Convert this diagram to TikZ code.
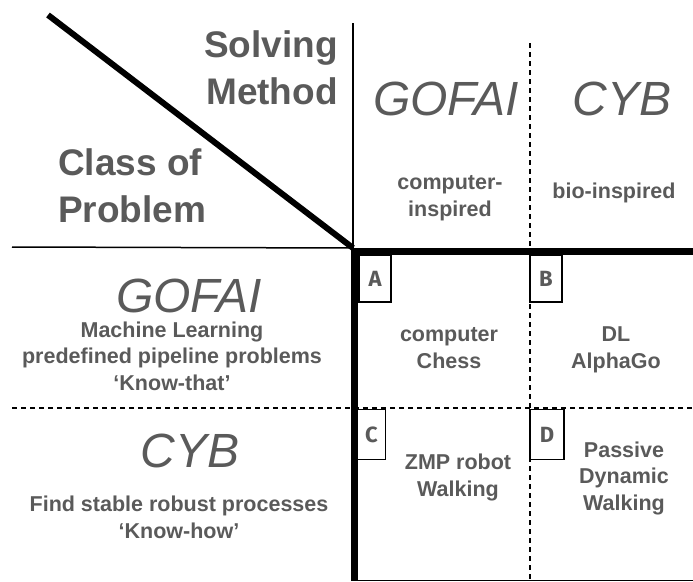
\documentclass[tikz,border=0pt]{standalone}
\usepackage{fontspec}
\setmainfont{Liberation Sans}
\newfontfamily\handfont{Fira Sans}
\usetikzlibrary{positioning}
\definecolor{labelgray}{HTML}{5A5A5A}
\tikzset {
	header/.style={font=\fontsize{37}{47}\selectfont\bfseries, text=labelgray, inner sep=0pt},
	tribe/.style={font=\fontsize{48}{50}\selectfont\itshape, text=labelgray, inner sep=0pt},
	caption/.style={font=\fontsize{21.5}{26.5}\selectfont\bfseries, text=labelgray, align=center, inner sep=0pt},
	letterbox/.style={rectangle, draw, fill=white, line width=1.8pt, inner sep=0pt,
					font=\fontsize{22}{22}\selectfont\handfont\bfseries, text=labelgray},
	thinrule/.style={line width=1.5pt},
	thickrule/.style={line width=7pt},
	dotrule/.style={line width=2.2pt, dash pattern=on 5pt off 4pt}
}

\begin{document}
\begin{tikzpicture}[x=1pt, y=-1pt]
					\useasboundingbox (0,0) rectangle (693,581);
					\coordinate (diagTop) at (48,15);
					\coordinate (corner) at (353,248);
					\coordinate (topEnd) at (353,23);
					\coordinate (leftEnd) at (12,247);
					\coordinate (rightEnd) at (693,251);
					\coordinate (bottomEnd) at (354.5,581);
					\coordinate (midTop) at (530,43);
					\coordinate (midBottom) at (530,581);
					\coordinate (rowLeft) at (12,408);
					\coordinate (rowRight) at (693,408);
					\draw [line width=6pt] (diagTop) -- (corner);
					\draw [thinrule] (topEnd) -- (corner);
					\draw [thinrule] (leftEnd) -- (corner);
					\draw [thickrule] (rightEnd) -| (bottomEnd);
					\draw [dotrule] (midTop) -- (midBottom);
					\draw [dotrule] (rowLeft) -- (rowRight);
					\draw [line width=1pt] (355,580) -- (693,580);

					\node [header, align=right, anchor=base east] (method) at (338,104) {Solving\\Method};
					\node [header, align=left, anchor=base west] (problem) at (58,222) {Class of\\Problem};

					\node [tribe, anchor=base] (gofaiTop) at (446,115) {GOFAI};
					\node [tribe, anchor=base] (cybTop) at (622,115) {CYB};
					\node [tribe, anchor=base] (gofaiLeft) at (189,312) {GOFAI};
					\node [tribe, anchor=base] (cybLeft) at (190,467) {CYB};

					\node [caption, anchor=base] (computerInspired) at (450,216) {computer-\\inspired};
					\node [caption, anchor=base] (bioInspired) at (614,198) {bio-inspired};
					\node [caption, anchor=base] (knowThat) at (172,390) {Machine Learning\\predefined pipeline problems\\‘Know-that’};
					\node [caption, anchor=base] (knowHow) at (179,538) {Find stable robust processes\\‘Know-how’};

					\node [caption, anchor=base] (chess) at (449,368) {computer\\Chess};
					\node [caption, anchor=base] (alphaGo) at (616,368) {DL\\AlphaGo};
					\node [caption, anchor=base] (zmp) at (458,496) {ZMP robot\\Walking};
					\node [caption, anchor=base] (passive) at (624,510) {Passive\\Dynamic\\Walking};

					\node [letterbox, minimum width=32pt, minimum height=47pt] (boxA) at (375,278.5) {A};
					\node [letterbox, minimum width=32pt, minimum height=47pt] (boxB) at (546,278.5) {B};
					\node [letterbox, minimum width=28pt, minimum height=50pt] (boxC) at (371.5,434.5) {C};
					\node [letterbox, minimum width=34pt, minimum height=50pt] (boxD) at (547,434.5) {D};
\end{tikzpicture}
\end{document}
